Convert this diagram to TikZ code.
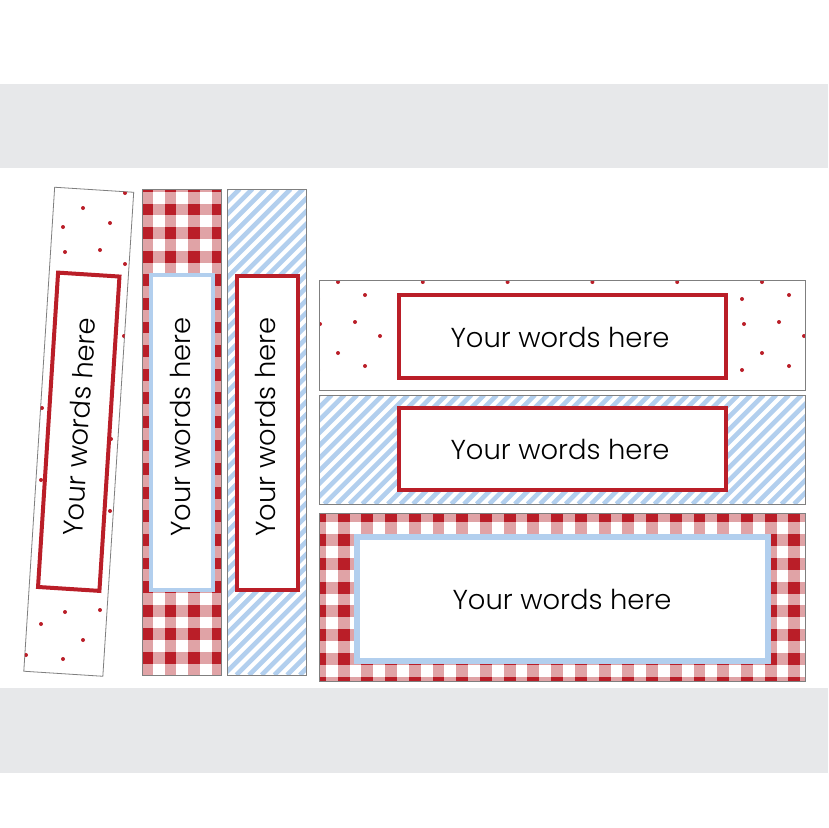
\documentclass[tikz,border=0pt]{standalone}
\usepackage{fontspec}
\newfontfamily\wordsfont{Poppins}[UprightFont={* Light}]
\definecolor{gingred}{HTML}{BA1E28}
\definecolor{ginglight}{HTML}{E0A3A6}
\definecolor{stripeblue}{HTML}{B2CFEE}
\definecolor{bandgray}{HTML}{E7E8EA}
\definecolor{edgegray}{HTML}{7F7F7F}
\tikzset{
  strip/.style={draw=edgegray,line width=0.8pt},
  redframe/.style={draw=gingred,fill=white,line width=4pt},
  blueframe/.style={draw=stripeblue,fill=white,line width=4pt},
  words/.style={font=\wordsfont\fontsize{27.4}{30}\selectfont,inner sep=0pt},
  dot/.style={fill=gingred}
}
\begin{document}
\begin{tikzpicture}[x=1pt,y=-1pt]
    \useasboundingbox (0,0) rectangle (828,828);
    \fill[white] (0,0) rectangle (828,828);
    \fill[bandgray] (0,84) rectangle (828,168);
    \fill[bandgray] (0,688) rectangle (828,773);

    \begin{scope}[shift={(78.75,431.75)},rotate=-3.65]
      \draw[strip,fill=white] (-39.6,-242.5) rectangle (39.6,242.5);
    \end{scope}
    \begin{scope}
      \clip[shift={(78.75,431.75)},rotate=-3.65] (-39.6,-242.5) rectangle (39.6,242.5);
      \foreach \x/\y in {125/193,83/208,63/227,110/223,65/252,100/250,125/264,124/336,42/408,111/439,41/480,110/511,65/612,100/610,41/624,83/640,26/655,63/659}
        \fill[dot] (\x,\y) circle (2);
    \end{scope}
    \begin{scope}[shift={(78.75,431.75)},rotate=-3.65]
      \draw[redframe] (-30.75,-157.5) rectangle (30.75,157.5);
      \node[words,rotate=86.35] (wordsdots) at (0,-5) {Your words here};
    \end{scope}

    \begin{scope}
      \clip (142,189) rectangle (221,675);
      \fill[white] (142,189) rectangle (221,675);
      \foreach \i in {0,...,3}
        \fill[ginglight] (141+23.6*\i,189) rectangle +(11.8,486);
      \foreach \j in {0,...,21}
        \fill[ginglight] (142,180+23.6*\j) rectangle +(79,11.8);
      \foreach \i in {0,...,3}
        \foreach \j in {0,...,21}
          \fill[gingred] (141+23.6*\i,180+23.6*\j) rectangle +(11.8,11.8);
    \end{scope}
    \draw[strip] (142,189) rectangle (221,675);
    \draw[blueframe] (151.3,275.3) rectangle (213,590.3);
    \node[words,rotate=90] (wordsgingham) at (180,427) {Your words here};

    \begin{scope}
      \clip (227,189) rectangle (306,675);
      \fill[white] (227,189) rectangle (306,675);
      \foreach \k in {0,...,45}
        \draw[stripeblue,line width=4.6pt] (-259+12.7*\k,675) -- +(486,-486);
    \end{scope}
    \draw[strip] (227,189) rectangle (306,675);
    \draw[redframe] (236.5,275.5) rectangle (298,589.7);
    \node[words,rotate=90] (wordsstripes) at (265,427) {Your words here};

    \begin{scope}
      \clip (319,280) rectangle (805,390);
      \fill[white] (319,280) rectangle (805,390);
      \foreach \i in {0,...,5}
        \foreach \j in {0,1}
          \foreach \dx/\dy in {0/299,2/324,20/282,47/295,37/322,62/336}
            \fill[dot] (318+84.8*\i+\dx,\dy+71*\j) circle (2);
    \end{scope}
    \draw[strip] (319,280) rectangle (805,390);
    \draw[redframe] (398.7,295.3) rectangle (726,378);
    \node[words] (wordsdotsbox) at (560,337) {Your words here};

    \begin{scope}
      \clip (319,395) rectangle (805,504);
      \fill[white] (319,395) rectangle (805,504);
      \foreach \k in {0,...,47}
        \draw[stripeblue,line width=4.6pt] (210+12.7*\k,504) -- +(109,-109);
    \end{scope}
    \draw[strip] (319,395) rectangle (805,504);
    \draw[redframe] (399,408.3) rectangle (726,489.7);
    \node[words] (wordsstripesbox) at (560,449) {Your words here};

    \begin{scope}
      \clip (319,513) rectangle (805,681);
      \fill[white] (319,513) rectangle (805,681);
      \foreach \i in {0,...,20}
        \fill[ginglight] (314+23.72*\i,513) rectangle +(11.86,168);
      \foreach \j in {0,...,7}
        \fill[ginglight] (319,510.6+23.72*\j) rectangle +(486,11.86);
      \foreach \i in {0,...,20}
        \foreach \j in {0,...,7}
          \fill[gingred] (314+23.72*\i,510.6+23.72*\j) rectangle +(11.86,11.86);
    \end{scope}
    \draw[strip] (319,513) rectangle (805,681);
    \draw[blueframe,line width=6pt] (356.7,537) rectangle (767.5,661);
    \node[words] (wordsginghambox) at (562,599) {Your words here};
\end{tikzpicture}
\end{document}
